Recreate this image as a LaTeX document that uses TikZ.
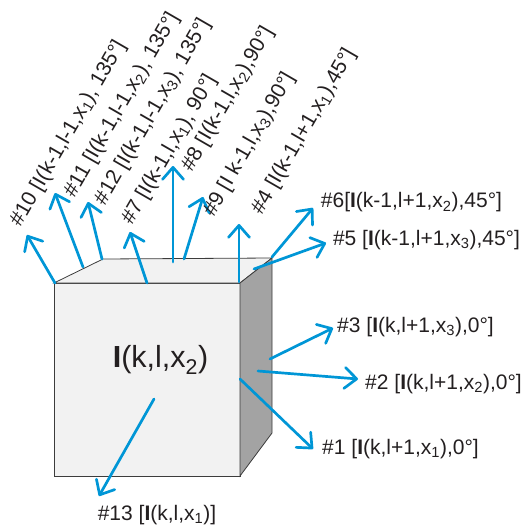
\documentclass[tikz,border=0pt]{standalone}
\usepackage{fontspec}
\setmainfont{Liberation Sans}
\usetikzlibrary{arrows.meta}
\definecolor{arrowblue}{RGB}{0,150,214}
\definecolor{facelight}{RGB}{242,242,242}
\definecolor{faceside}{RGB}{163,163,163}
\definecolor{edgegray}{RGB}{60,60,60}
\definecolor{txt}{RGB}{35,31,32}
\begin{document}
\begin{tikzpicture}[x=1pt,y=-1pt,
  arr/.style={draw=arrowblue, line width=2.7pt, line cap=round,
    -{Straight Barb[length=12pt,width=21pt,round]}},
  lbl/.style={font=\fontsize{21}{25}\selectfont, inner sep=0pt, text=txt},
  rlbl/.style={lbl, rotate=60},
  bigl/.style={font=\fontsize{30.5}{36}\selectfont, inner sep=0pt, text=txt},
  face/.style={draw=edgegray, line width=0.8pt, line join=miter}]
\useasboundingbox (0,0) rectangle (522,530);
% cube
\draw[face, fill=facelight] (54,283) -- (240,283) -- (240,476) -- (54,476) -- cycle;
\draw[face, fill=facelight] (54,283) -- (103,259) -- (272,258) -- (240,283) -- cycle;
\draw[face, fill=faceside] (240,283) -- (272,258) -- (272,433) -- (240,476) -- cycle;
\node[bigl] (main) at (160.5,360) {\textbf{I}(k,l,x\textsubscript{2})};
% arrow coordinates
\coordinate (s10) at (55,283);  \coordinate (t10) at (27,235);
\coordinate (s11) at (83,267);  \coordinate (t11) at (55,193);
\coordinate (s12) at (102,259); \coordinate (t12) at (88,202);
\coordinate (s7) at (147,283);  \coordinate (t7) at (130,232);
\coordinate (s8) at (173,262);  \coordinate (t8) at (173,166);
\coordinate (s9) at (184,259);  \coordinate (t9) at (203,197);
\coordinate (s4) at (239,282);  \coordinate (t4) at (239,224);
\coordinate (s6) at (272,257);  \coordinate (t6) at (313,208);
\coordinate (s5) at (254,269);  \coordinate (t5) at (326,243);
\coordinate (s3) at (270,359);  \coordinate (t3) at (333,328);
\coordinate (s2) at (258,371);  \coordinate (t2) at (358,379);
\coordinate (s1) at (240,379);  \coordinate (t1) at (313,449);
\coordinate (s13) at (154,399); \coordinate (t13) at (99,496);
\foreach \n in {10,11,12,7,8,9,4,6,5,3,2,1,13} {\draw[arr] (s\n) -- (t\n);}
% rotated labels
\node[rlbl] (l10) at (68.5,133.5) {\#10 [I(k-1,l-1,x\textsubscript{1}), 135°]};
\node[rlbl] (l11) at (122,105) {\#11 [I(k-1,l-1,x\textsubscript{2}), 135°]};
\node[rlbl] (l12) at (153,112) {\#12 [I(k-1,l-1,x\textsubscript{3}), 135°]};
\node[rlbl] (l7) at (169.5,150) {\#7 [I(k-1,l,x\textsubscript{1}), 90°]};
\node[rlbl] (l8) at (228,99) {\#8 [I(k-1,l,x\textsubscript{2}),90°]};
\node[rlbl] (l9) at (249.5,144.5) {\#9 [I k-1,l,x\textsubscript{3}),90°]};
\node[rlbl] (l4) at (304,131.5) {\#4 [I(k-1,l+1,x\textsubscript{1}),45°]};
% horizontal labels
\node[lbl] (l6) at (411.5,202.5) {\#6[\textbf{I}(k-1,l+1,x\textsubscript{2}),45°]};
\node[lbl] (l5) at (426.5,240) {\#5 [\textbf{I}(k-1,l+1,x\textsubscript{3}),45°]};
\node[lbl] (l3) at (415.5,327) {\#3 [\textbf{I}(k,l+1,x\textsubscript{3}),0°]};
\node[lbl] (l2) at (443.5,384) {\#2 [\textbf{I}(k,l+1,x\textsubscript{2}),0°]};
\node[lbl] (l1) at (400.5,449) {\#1 [\textbf{I}(k,l+1,x\textsubscript{1}),0°]};
\node[lbl] (l13) at (157,515) {\#13 [\textbf{I}(k,l,x\textsubscript{1})]};
\end{tikzpicture}
\end{document}
